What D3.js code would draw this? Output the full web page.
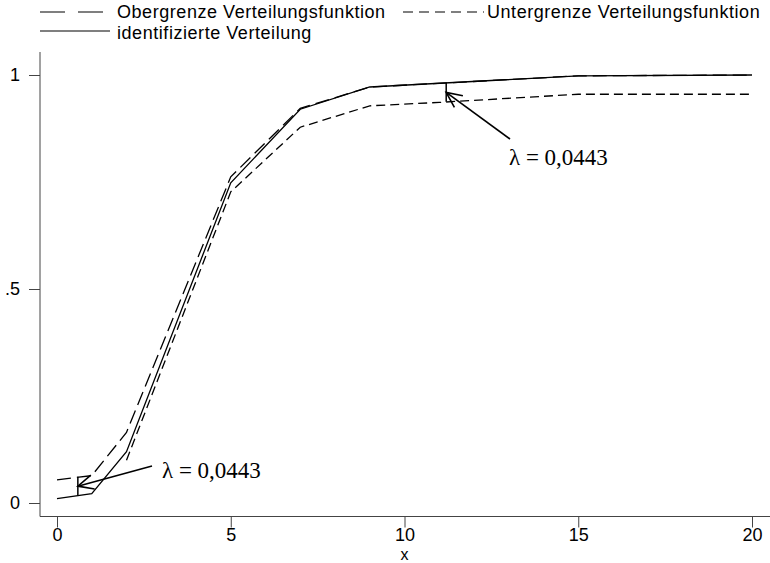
<!DOCTYPE html>
<html><head><meta charset="utf-8">
<script src="https://cdn.jsdelivr.net/npm/d3@7"></script>
<style>body{margin:0;background:#fff}svg{display:block}</style>
</head><body>
<script>
// ---- data ----
const xUpper = [0, 1, 2, 5, 7, 9, 15, 20];
const yUpper = [0.054, 0.064, 0.165, 0.762, 0.922, 0.972, 0.998, 1.0];
const xIdent = [0, 1, 2, 5, 7, 9, 15, 20];
const yIdent = [0.010, 0.022, 0.120, 0.748, 0.920, 0.972, 0.998, 1.0];
const xLower = [2, 5, 7, 9, 11, 15, 20];
const yLower = [0.100, 0.727, 0.878, 0.928, 0.936, 0.955, 0.955];
const xTicks = [0, 5, 10, 15, 20];
const yTicks = [0, 0.5, 1];
const yTickLabels = ["0", ".5", "1"];
const lambda = 0.0443;
const lambdaLabel = "λ = 0,0443";
const annotX = [0.6, 11.2];
const legendLabels = ["Obergrenze Verteilungsfunktion", "Untergrenze Verteilungsfunktion", "identifizierte Verteilung"];

const W = 770, H = 563;
const svg = d3.select("body").append("svg").attr("width", W).attr("height", H);
const x = d3.scaleLinear().domain([0, 20]).range([57, 752]);
const y = d3.scaleLinear().domain([0, 1]).range([503, 75]);
const sans = "'Liberation Sans', Arial, sans-serif";
const serif = "'Liberation Serif', 'Times New Roman', serif";

// axis lines
svg.append("line").attr("x1", 40).attr("x2", 40).attr("y1", 52).attr("y2", 516.5)
  .attr("stroke", "#444").attr("stroke-width", 1);
svg.append("line").attr("x1", 40).attr("x2", 770).attr("y1", 516.5).attr("y2", 516.5)
  .attr("stroke", "#444").attr("stroke-width", 1);

// y axis ticks
const ya = svg.append("g").attr("transform", "translate(40,0)")
  .call(d3.axisLeft(y).tickValues(yTicks).tickSize(11).tickPadding(9)
    .tickFormat((d, i) => yTickLabels[i]));
ya.select(".domain").remove();
ya.selectAll("line").attr("stroke", "#444");
ya.selectAll("text").attr("font-family", sans).attr("font-size", 18).attr("fill", "#000");

// x axis ticks
const xa = svg.append("g").attr("transform", "translate(0,516.5)")
  .call(d3.axisBottom(x).tickValues(xTicks).tickSize(11).tickPadding(1).tickFormat(d3.format("d")));
xa.select(".domain").remove();
xa.selectAll("line").attr("stroke", "#444");
xa.selectAll("text").attr("font-family", sans).attr("font-size", 18).attr("fill", "#000");

svg.append("text").attr("x", x(10)).attr("y", 559.5).attr("text-anchor", "middle")
  .attr("font-family", sans).attr("font-size", 16).text("x");

// curves
const line = d3.line().x(d => x(d[0])).y(d => y(d[1]));
const zip = (a, b) => a.map((v, i) => [v, b[i]]);
function curve(xs, ys, dash) {
  svg.append("path").datum(zip(xs, ys)).attr("d", line)
    .attr("fill", "none").attr("stroke", "#000").attr("stroke-width", 1.3)
    .attr("stroke-dasharray", dash);
}
curve(xIdent, yIdent, null);
curve(xUpper, yUpper, "14,6");
curve(xLower, yLower, "9,5");

// annotations
const interp = (xs, ys, v) => d3.scaleLinear().domain(xs).range(ys)(v);
function arrowHead(tx, ty, fx, fy) {
  const ang = Math.atan2(fy - ty, fx - tx);
  const L = 17, a = 25 * Math.PI / 180;
  const p1 = [tx + L * Math.cos(ang - a), ty + L * Math.sin(ang - a)];
  const p2 = [tx + L * Math.cos(ang + a), ty + L * Math.sin(ang + a)];
  svg.append("path").attr("d", `M${p1}L${tx},${ty}L${p2}`)
    .attr("fill", "none").attr("stroke", "#000").attr("stroke-width", 1.6);
}
function annot(xv, topV, botV, tail, textPos) {
  const px = x(xv), y1 = y(topV), y2 = y(botV);
  svg.append("line").attr("x1", px).attr("x2", px).attr("y1", y1).attr("y2", y2)
    .attr("stroke", "#000").attr("stroke-width", 1.5);
  const tx = px, ty = (y1 + y2) / 2;
  svg.append("line").attr("x1", tail[0]).attr("y1", tail[1]).attr("x2", tx).attr("y2", ty)
    .attr("stroke", "#000").attr("stroke-width", 1.6);
  arrowHead(tx, ty, tail[0], tail[1]);
  svg.append("text").attr("x", textPos[0]).attr("y", textPos[1])
    .attr("font-family", serif).attr("font-size", 23).text(lambdaLabel);
}
const f0 = interp(xIdent, yIdent, annotX[0]);
annot(annotX[0], f0 + lambda, f0, [152, 466], [162, 478]);
const f1 = interp(xIdent, yIdent, annotX[1]);
annot(annotX[1], f1, f1 - lambda, [510, 139], [509, 165]);

// legend
function legLine(x1, x2, yy, dash) {
  svg.append("line").attr("x1", x1).attr("x2", x2).attr("y1", yy).attr("y2", yy)
    .attr("stroke", "#000").attr("stroke-width", 1.2).attr("stroke-dasharray", dash);
}
function legText(tx, ty, s) {
  svg.append("text").attr("x", tx).attr("y", ty).attr("font-family", sans)
    .attr("font-size", 18).attr("letter-spacing", 0.55).text(s);
}
legLine(40, 110, 12, "25,13");
legText(117, 18, legendLabels[0]);
legLine(403, 484, 12, "10,6");
legText(487, 18, legendLabels[1]);
legLine(40, 110, 31, null);
legText(117, 38.5, legendLabels[2]);
</script>
</body></html>
